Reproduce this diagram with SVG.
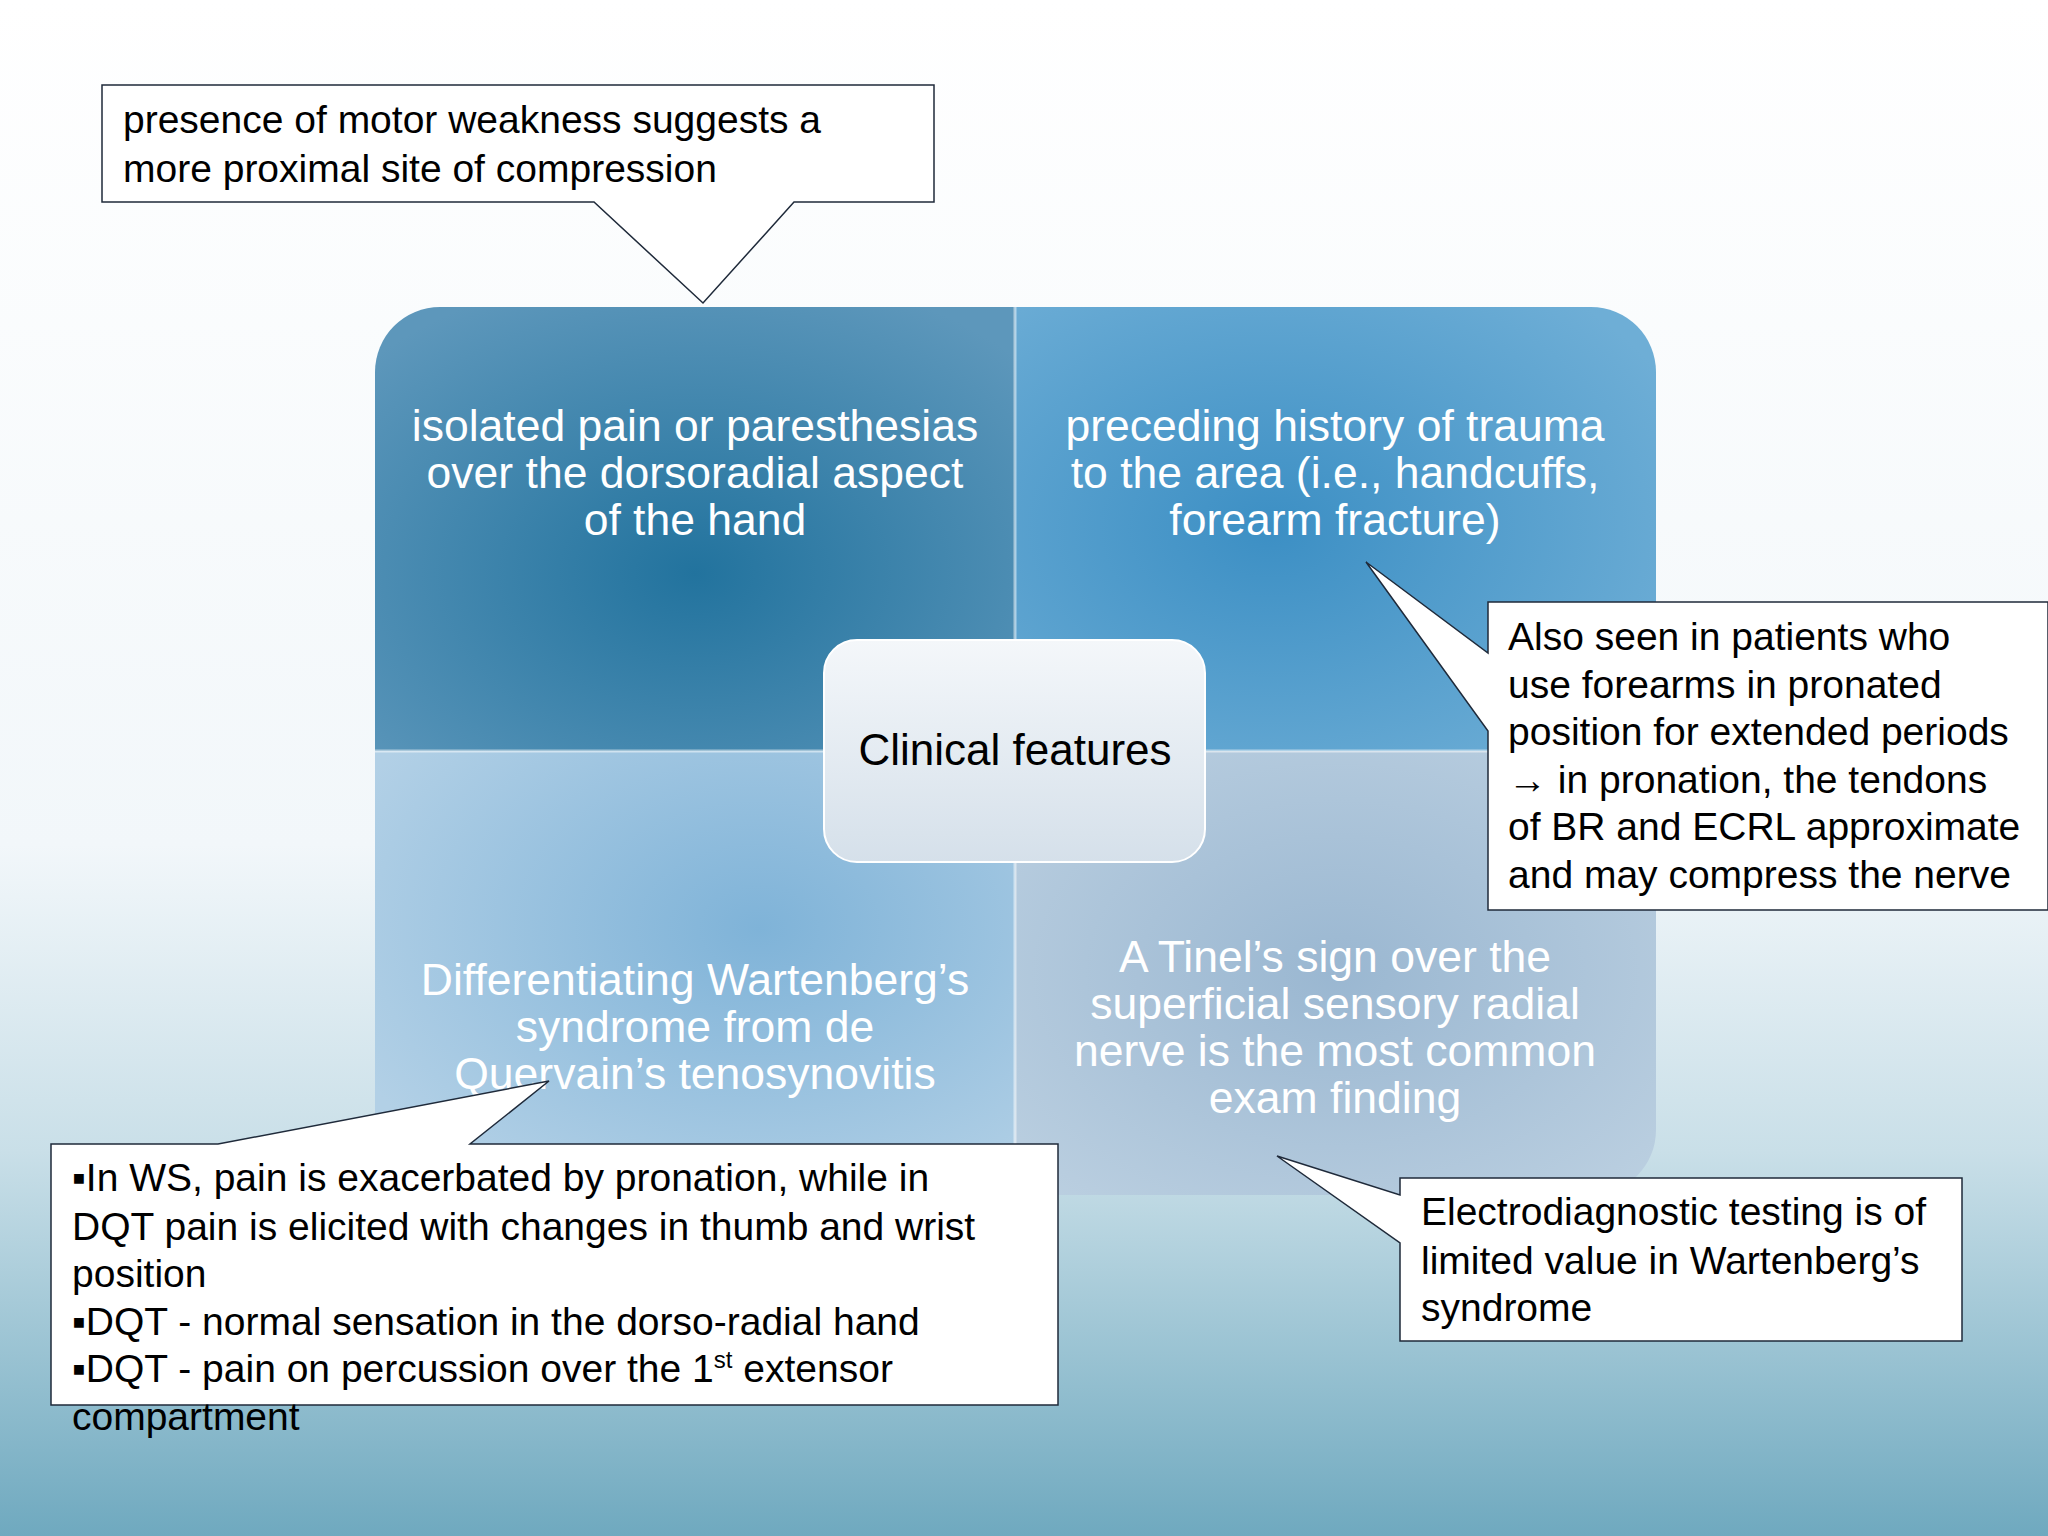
<svg xmlns="http://www.w3.org/2000/svg" width="2048" height="1536" viewBox="0 0 2048 1536">
<defs>
<linearGradient id="bg" x1="0" y1="0" x2="0" y2="1">
<stop offset="0" stop-color="#ffffff"/><stop offset="0.55" stop-color="#f2f7fa"/><stop offset="0.75" stop-color="#c9dfe8"/><stop offset="1" stop-color="#6fa9bf"/>
</linearGradient>
<radialGradient id="gTL" cx="0.5" cy="0.6" r="0.7"><stop offset="0" stop-color="#22739e"/><stop offset="1" stop-color="#5d97bb"/></radialGradient>
<radialGradient id="gTR" cx="0.4" cy="0.5" r="0.7"><stop offset="0" stop-color="#3c8fc4"/><stop offset="1" stop-color="#6eaed6"/></radialGradient>
<radialGradient id="gBL" cx="0.6" cy="0.4" r="0.7"><stop offset="0" stop-color="#7fb3d8"/><stop offset="1" stop-color="#b2d0e6"/></radialGradient>
<radialGradient id="gBR" cx="0.5" cy="0.5" r="0.7"><stop offset="0" stop-color="#9ab7d1"/><stop offset="1" stop-color="#bcd0e1"/></radialGradient>
<linearGradient id="gC" x1="0" y1="0" x2="0" y2="1"><stop offset="0" stop-color="#f4f7fa"/><stop offset="1" stop-color="#d5e0ea"/></linearGradient>
<clipPath id="quad"><rect x="375" y="307" width="1281" height="888" rx="65"/></clipPath>
</defs>
<style>
.q{font-family:"Liberation Sans",Arial,sans-serif;font-size:44.5px;fill:#ffffff;text-anchor:middle}
.c{font-family:"Liberation Sans",Arial,sans-serif;font-size:39px;fill:#000}
.co{fill:#fff;stroke:#1f2a3a;stroke-width:1.5}
</style>
<rect width="2048" height="1536" fill="url(#bg)"/>
<g id="quadrants" clip-path="url(#quad)">
<rect x="375" y="307" width="640" height="444" fill="url(#gTL)"/>
<rect x="1015" y="307" width="641" height="444" fill="url(#gTR)"/>
<rect x="375" y="751" width="640" height="444" fill="url(#gBL)"/>
<rect x="1015" y="751" width="641" height="444" fill="url(#gBR)"/>
<line x1="1015" y1="307" x2="1015" y2="1195" stroke="#ffffff" stroke-opacity="0.5" stroke-width="3"/>
<line x1="375" y1="751" x2="1656" y2="751" stroke="#ffffff" stroke-opacity="0.5" stroke-width="3"/>
</g>
<g id="tl"><text class="q" x="695" y="441">isolated pain or paresthesias</text><text class="q" x="695" y="488">over the dorsoradial aspect</text><text class="q" x="695" y="535">of the hand</text></g>
<g id="tr"><text class="q" x="1335" y="441">preceding history of trauma</text><text class="q" x="1335" y="488">to the area (i.e., handcuffs,</text><text class="q" x="1335" y="535">forearm fracture)</text></g>
<g id="bl"><text class="q" x="695" y="995">Differentiating Wartenberg’s</text><text class="q" x="695" y="1042">syndrome from de</text><text class="q" x="695" y="1089">Quervain’s tenosynovitis</text></g>
<g id="br"><text class="q" x="1335" y="972">A Tinel’s sign over the</text><text class="q" x="1335" y="1019">superficial sensory radial</text><text class="q" x="1335" y="1066">nerve is the most common</text><text class="q" x="1335" y="1113">exam finding</text></g>
<g id="center"><rect x="824" y="640" width="381" height="222" rx="33" fill="url(#gC)" stroke="#ffffff" stroke-width="2"/><text x="1015" y="765" text-anchor="middle" font-family="Liberation Sans,Arial,sans-serif" font-size="44" fill="#000">Clinical features</text></g>
<g id="callouts">
<g id="c1"><path class="co" d="M102,85 H934 V202 H794 L703,303 L594,202 H102 Z"/><text class="c" x="123" y="133">presence of motor weakness suggests a</text><text class="c" x="123" y="182">more proximal site of compression</text></g>
<g id="c2"><path class="co" d="M1488,602 H2048 V910 H1488 V731 L1366,562 L1488,653 Z"/>
<text class="c" x="1508" y="650">Also seen in patients who</text><text class="c" x="1508" y="698">use forearms in pronated</text><text class="c" x="1508" y="745">position for extended periods</text><text class="c" x="1508" y="793">→ in pronation, the tendons</text><text class="c" x="1508" y="840">of BR and ECRL approximate</text><text class="c" x="1508" y="888">and may compress the nerve</text></g>
<g id="c3"><path class="co" d="M51,1144 H218 L549,1081 L470,1144 H1058 V1405 H51 Z"/>
<text class="c" x="72" y="1191">▪In WS, pain is exacerbated by pronation, while in</text><text class="c" x="72" y="1240">DQT pain is elicited with changes in thumb and wrist</text><text class="c" x="72" y="1287">position</text><text class="c" x="72" y="1335">▪DQT - normal sensation in the dorso-radial hand</text><text class="c" x="72" y="1382">▪DQT - pain on percussion over the 1<tspan font-size="24" dy="-14">st</tspan><tspan dy="14"> extensor</tspan></text><text class="c" x="72" y="1430">compartment</text></g>
<g id="c4"><path class="co" d="M1400,1178 H1962 V1341 H1400 V1243 L1277,1156 L1400,1195 Z"/>
<text class="c" x="1421" y="1225">Electrodiagnostic testing is of</text><text class="c" x="1421" y="1274">limited value in Wartenberg’s</text><text class="c" x="1421" y="1321">syndrome</text></g>
</g>
</svg>
